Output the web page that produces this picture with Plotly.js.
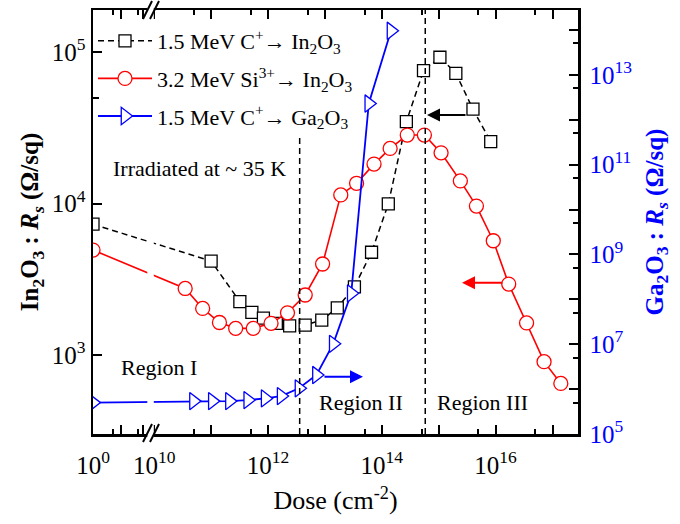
<!DOCTYPE html>
<html><head><meta charset="utf-8">
<script src="https://cdn.plot.ly/plotly-3.0.1.min.js"></script>
<style>html,body{margin:0;padding:0;background:#fff}</style>
</head><body><div id="chart" style="width:680px;height:524px"></div>
<script>
// ---- data (dose in cm^-2, sheet resistance in ohm/sq) ----
const doseC_In2O3 = [1, 1e11, 3.2e11, 5.2e11, 8.3e11, 1.4e12, 2.4e12, 4.5e12, 8.8e12, 1.65e13, 3.3e13, 6.6e13, 1.3e14, 2.7e14, 5.4e14, 1.05e15, 2e15, 4e15, 8.2e15];
const rsC_In2O3   = [7300, 4170, 2250, 1915, 1750, 1620, 1560, 1577, 1700, 2050, 2820, 4770, 9930, 34700, 75300, 92300, 72300, 41900, 25600];

const doseSi_In2O3 = [1, 3.5e10, 7.1e10, 1.4e11, 2.7e11, 5.5e11, 1.13e12, 2.2e12, 4.5e12, 9.1e12, 1.9e13, 3.6e13, 7.3e13, 1.4e14, 2.8e14, 5.6e14, 1.1e15, 2.4e15, 4.6e15, 9.1e15, 1.7e16, 3.5e16, 7.1e16, 1.4e17];
const rsSi_In2O3   = [4930, 2750, 2030, 1640, 1500, 1500, 1620, 1900, 2490, 3990, 11400, 13600, 18200, 23100, 28300, 28300, 21600, 14100, 9620, 5680, 2940, 1630, 904, 650];

const doseC_Ga2O3 = [1, 4.9e10, 1.05e11, 2.1e11, 4.4e11, 8.9e11, 1.7e12, 3.5e12, 7.1e12, 1.4e13, 2.9e13, 5.9e13, 1.45e14];
const rsC_Ga2O3   = [5e5, 5.4e5, 5.4e5, 5.4e5, 5.7e5, 6.2e5, 7e5, 1.04e6, 2.06e6, 1.02e7, 1.36e8, 2.3e12, 9.6e13];

const seriesNames = [
  '1.5 MeV C<sup>+</sup>\u2192 In<sub>2</sub>O<sub>3</sub>',
  '3.2 MeV Si<sup>3+</sup>\u2192 In<sub>2</sub>O<sub>3</sub>',
  '1.5 MeV C<sup>+</sup>\u2192 Ga<sub>2</sub>O<sub>3</sub>'
];
const regionDoses = [3.6e12, 5.8e14];
const xTickLabels = ['10<sup>0</sup>', '10<sup>10</sup>', '10<sup>12</sup>', '10<sup>14</sup>', '10<sup>16</sup>'];

// ---- broken x axis: the unirradiated (dose = 10^0) point sits at the left edge ----
const X_LOG_MIN = 8.924, X_LOG_MAX = 17.448;
const ZERO_POS = Math.pow(10, X_LOG_MIN);
const bx = arr => arr.map(d => d <= 1 ? ZERO_POS : d);

const FONT = 'Liberation Serif, Times New Roman, serif';

const traces = [
  {x: bx(doseC_In2O3), y: rsC_In2O3, name: seriesNames[0], legendgroup: 'a', type: 'scatter', mode: 'lines+markers',
   line: {color: 'black', width: 1.5, dash: '6px,4px'},
   marker: {symbol: 'square', size: 12, color: 'white', line: {color: 'black', width: 1.3}}},
  {x: bx(doseSi_In2O3), y: rsSi_In2O3, name: seriesNames[1], legendgroup: 'b', type: 'scatter', mode: 'lines+markers',
   line: {color: 'red', width: 1.6},
   marker: {symbol: 'circle', size: 14, color: 'white', line: {color: 'red', width: 1.3}}},
  {x: bx(doseC_Ga2O3), y: rsC_Ga2O3, name: seriesNames[2], legendgroup: 'c', yaxis: 'y2', type: 'scatter', mode: 'lines+markers',
   line: {color: 'blue', width: 1.8},
   marker: {symbol: 'triangle-right', size: 15, color: 'white', line: {color: 'blue', width: 1.3}}}
];

// plot area in pixels: x 93..578, y 10..434
const PX = p => (p - 93) / 485;
const PY = p => (434 - p) / 424;

const xDecades = [1e10, 1e11, 1e12, 1e13, 1e14, 1e15, 1e16, 1e17];
const xTickVals = [ZERO_POS, Math.pow(10, 9.422), Math.pow(10, 9.803)].concat(xDecades);
const xTickText = [xTickLabels[0], '', '', xTickLabels[1], '', xTickLabels[2], '', xTickLabels[3], '', xTickLabels[4], ''];
const xMinor = [Math.pow(10, 9.276), Math.pow(10, 9.715), 5e10, 5e11, 5e12, 5e13, 5e14, 5e15, 5e16];

const y2Vals = [1e5, 1e6, 1e7, 1e8, 1e9, 1e10, 1e11, 1e12, 1e13, 1e14];
const y2Text = y2Vals.map((v, i) => i % 2 === 0 ? '10<sup>' + Math.round(Math.log10(v)) + '</sup>' : '');
const y2Minor = [5e5, 5e6, 5e7, 5e8, 5e9, 5e10, 5e11, 5e12, 5e13];

function slash(x0, y0, x1, y1) {
  return {type: 'line', xref: 'paper', yref: 'paper', x0: PX(x0), y0: PY(y0), x1: PX(x1), y1: PY(y1),
          line: {color: 'black', width: 2}, layer: 'above'};
}

const shapes = [
  {type: 'line', xref: 'x', yref: 'paper', x0: regionDoses[0], x1: regionDoses[0], y0: 0, y1: PY(135),
   line: {color: 'black', width: 1.5, dash: '6px,4px'}},
  {type: 'line', xref: 'x', yref: 'paper', x0: regionDoses[1], x1: regionDoses[1], y0: 0, y1: 1,
   line: {color: 'black', width: 1.5, dash: '6px,4px'}},
  // axis break band
  {type: 'rect', xref: 'paper', yref: 'paper', x0: PX(147.3), x1: PX(153.8), y0: PY(437), y1: PY(7),
   fillcolor: 'white', line: {width: 0}, layer: 'above'},
  slash(143, 442, 152, 424), slash(150, 442, 159, 424),
  slash(143, 19, 152, 1), slash(150, 19, 159, 1)
];

const annFont = {family: FONT, size: 22, color: 'black'};
function label(text, px, py) {
  return {xref: 'paper', yref: 'paper', x: PX(px), y: PY(py), xanchor: 'center', yanchor: 'middle',
          text: text, showarrow: false, font: annFont};
}
const annotations = [
  label('Irradiated at ~ 35 K', 199, 168),
  label('Region I', 158.5, 367),
  label('Region II', 360.5, 402),
  label('Region III', 482.5, 402),
  {xref: 'paper', yref: 'paper', x: PX(427), y: PY(115), ax: 40, ay: 0, text: '', showarrow: true,
   arrowhead: 2, arrowsize: 1.3, arrowwidth: 2, arrowcolor: 'black'},
  {xref: 'paper', yref: 'paper', x: PX(462), y: PY(282.7), ax: 42, ay: 0, text: '', showarrow: true,
   arrowhead: 2, arrowsize: 1.3, arrowwidth: 2, arrowcolor: 'red'},
  {xref: 'paper', yref: 'paper', x: PX(363), y: PY(376.7), ax: -40, ay: 0, text: '', showarrow: true,
   arrowhead: 2, arrowsize: 1.3, arrowwidth: 2, arrowcolor: 'blue'}
];

const layout = {
  width: 680, height: 524,
  margin: {l: 93, r: 102, t: 10, b: 90},
  paper_bgcolor: 'white', plot_bgcolor: 'white',
  font: {family: FONT, size: 25, color: 'black'},
  showlegend: true,
  legend: {x: 0.0, y: PY(20), xanchor: 'left', yanchor: 'top', bgcolor: 'rgba(0,0,0,0)',
           font: {family: FONT, size: 22, color: 'black'}, tracegroupgap: 6, itemwidth: 54},
  xaxis: {type: 'log', range: [X_LOG_MIN, X_LOG_MAX], tickmode: 'array', tickvals: xTickVals, ticktext: xTickText,
          ticks: 'inside', ticklen: 9, tickwidth: 2, tickcolor: 'black', showline: true, linewidth: 2.5, linecolor: 'black',
          mirror: 'ticks', showgrid: false, zeroline: false, ticklabelstandoff: 7,
          minor: {tickmode: 'array', tickvals: xMinor, ticks: 'inside', ticklen: 5, tickwidth: 2, tickcolor: 'black', showgrid: false},
          tickfont: {family: FONT, size: 25},
          title: {text: 'Dose (cm<sup>-2</sup>)', font: {family: FONT, size: 26}, standoff: 14}},
  yaxis: {type: 'log', range: [2.479, 5.277], tickmode: 'array', tickvals: [1e3, 1e4, 1e5],
          ticktext: ['10<sup>3</sup>', '10<sup>4</sup>', '10<sup>5</sup>'],
          ticks: 'inside', ticklen: 9, tickwidth: 2, tickcolor: 'black', showline: true, linewidth: 2.5, linecolor: 'black',
          showgrid: false, zeroline: false,
          minor: {tickmode: 'array', tickvals: [5e4], ticks: 'inside', ticklen: 6, tickwidth: 2, tickcolor: 'black', showgrid: false},
          tickfont: {family: FONT, size: 25},
          title: {text: '<b>In<sub>2</sub>O<sub>3</sub> : <i>R<sub>s</sub></i> (\u03A9/sq)</b>', font: {family: FONT, size: 25}, standoff: 6}},
  yaxis2: {type: 'log', overlaying: 'y', side: 'right', range: [5, 14.445], tickmode: 'array', tickvals: y2Vals, ticktext: y2Text,
          ticks: 'inside', ticklen: 9, tickwidth: 2, tickcolor: 'black', showline: true, linewidth: 2.5, linecolor: 'black',
          showgrid: false, zeroline: false, ticklabelstandoff: 4,
          minor: {tickmode: 'array', tickvals: y2Minor, ticks: 'inside', ticklen: 5, tickwidth: 2, tickcolor: 'black', showgrid: false},
          tickfont: {family: FONT, size: 25, color: 'blue'},
          title: {text: '<b>Ga<sub>2</sub>O<sub>3</sub> : <i>R<sub>s</sub></i> (\u03A9/sq)</b>', font: {family: FONT, size: 25, color: 'blue'}, standoff: 14}},
  shapes: shapes,
  annotations: annotations
};

Plotly.newPlot('chart', traces, layout, {displayModeBar: false, staticPlot: true});
</script></body></html>
